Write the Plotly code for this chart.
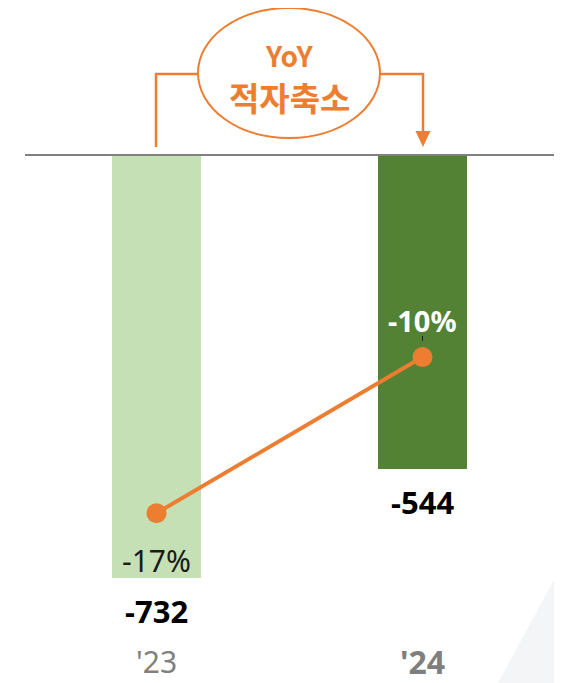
import plotly.graph_objects as go

categories = ["'23", "'24"]
values = [-732, -544]
yoy_pct = [-17, -10]
pct_labels = ["-17%", "-10%"]
value_labels = ["-732", "-544"]
bar_colors = ["#C5E0B4", "#548235"]

OFF = 8  # page body margin
W, H = 562 - OFF, 683 - OFF
ORANGE = "#ED7D31"

def px(x):
    return (x - OFF) / W

def py(y):
    return 1 - (y - OFF) / H

x_idx = [0, 1]

fig = go.Figure()
fig.add_trace(go.Bar(
    x=x_idx, y=values, marker_color=bar_colors, width=0.335,
    marker_line_width=0, hoverinfo="skip", showlegend=False,
))
fig.add_trace(go.Scatter(
    x=x_idx, y=yoy_pct, yaxis="y2", mode="lines+markers",
    line=dict(color=ORANGE, width=4),
    marker=dict(color=ORANGE, size=20),
    showlegend=False, hoverinfo="skip",
))

FONT = "Noto Sans, Open Sans"
annotations = []
annotations.append(dict(x=0, y=yoy_pct[0], yref="y2", text=pct_labels[0], showarrow=False,
                        yshift=-47, font=dict(family=FONT, size=30, color="#1a1a1a")))
annotations.append(dict(x=1, y=yoy_pct[1], yref="y2", text="<b>%s</b>" % pct_labels[1], showarrow=False,
                        yshift=37, font=dict(family=FONT, size=29, color="#ffffff")))
for i, v in enumerate(values):
    annotations.append(dict(x=i, y=v, yref="y", text="<b>%s</b>" % value_labels[i], showarrow=False,
                            yshift=-33, font=dict(family=FONT, size=31, color="#000000")))
annotations.append(dict(x=0, y=py(661), yref="paper", yanchor="middle", text=categories[0], showarrow=False,
                        borderpad=0, font=dict(family=FONT, size=30, color="#808080")))
annotations.append(dict(x=1, y=py(661), yref="paper", yanchor="middle", text="<b>%s</b>" % categories[1],
                        borderpad=0, showarrow=False, font=dict(family=FONT, size=32, color="#7f7f7f")))
annotations.append(dict(x=px(289), y=py(55), xref="paper", yref="paper", xanchor="center", yanchor="middle",
                        text="<b>YoY</b>", showarrow=False,
                        font=dict(family="Noto Sans CJK KR, Noto Sans", size=28, color=ORANGE)))
annotations.append(dict(x=px(289), y=py(97), xref="paper", yref="paper", xanchor="center", yanchor="middle",
                        text="<b>적자축소</b>", showarrow=False,
                        font=dict(family="Noto Sans CJK KR", size=33, color=ORANGE)))

shapes = [
    dict(type="path", xref="paper", yref="paper",
         path="M %f %f L %f %f L %f %f Z" % (px(498), py(683), px(562), py(565), px(562), py(683)),
         fillcolor="#f4f5f7", line=dict(width=0), layer="below"),
    dict(type="line", xref="paper", yref="paper", x0=px(25), x1=px(555), y0=py(155), y1=py(155),
         line=dict(color="#808080", width=2), layer="above"),
    dict(type="circle", xref="paper", yref="paper", x0=px(198), x1=px(380), y0=py(8), y1=py(138),
         line=dict(color=ORANGE, width=2), fillcolor="rgba(0,0,0,0)"),
    dict(type="path", xref="paper", yref="paper",
         path="M %f %f L %f %f L %f %f" % (px(156), py(147), px(156), py(74), px(198), py(74)),
         line=dict(color=ORANGE, width=2.5)),
    dict(type="path", xref="paper", yref="paper",
         path="M %f %f L %f %f L %f %f" % (px(380), py(74), px(423), py(74), px(423), py(133)),
         line=dict(color=ORANGE, width=2.5)),
    dict(type="path", xref="paper", yref="paper",
         path="M %f %f L %f %f L %f %f Z" % (px(415.5), py(131), px(430.5), py(131), px(423), py(147)),
         fillcolor=ORANGE, line=dict(width=0)),
    dict(type="line", xref="paper", yref="paper", x0=px(422.5), x1=px(422.5), y0=py(336), y1=py(341),
         line=dict(color="#222222", width=1)),
]

fig.update_layout(
    width=W, height=H,
    margin=dict(l=0, r=0, t=0, b=0),
    paper_bgcolor="white", plot_bgcolor="rgba(0,0,0,0)",
    xaxis=dict(range=[-0.5583, 1.5244], visible=False, fixedrange=True),
    yaxis=dict(range=[-913.6, 254.4], visible=False, fixedrange=True),
    yaxis2=dict(range=[-24.62, 5.66], overlaying="y", visible=False, fixedrange=True),
    annotations=annotations, shapes=shapes,
    bargap=0,
)

fig.write_html("out.html")
